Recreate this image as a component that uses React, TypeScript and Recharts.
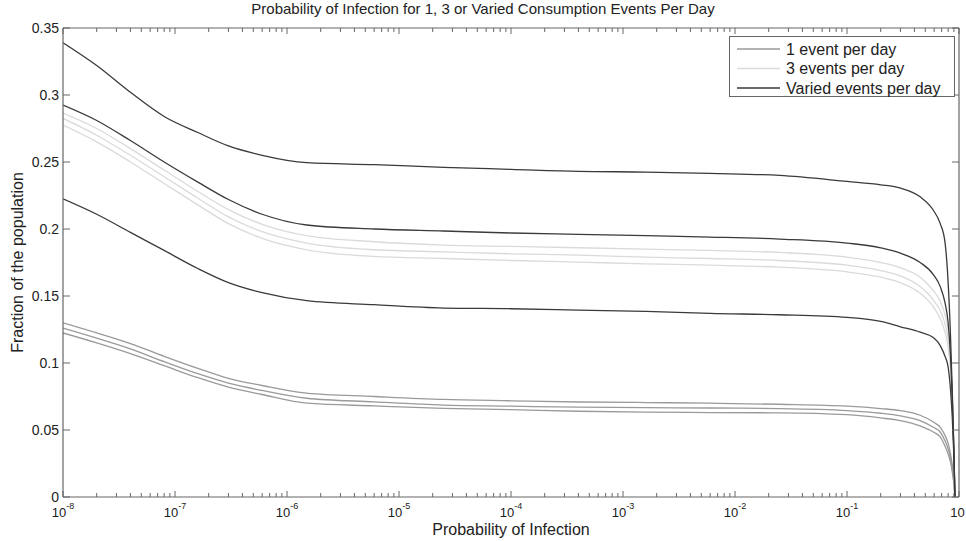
import React from 'react';
import { LineChart, Line, XAxis, YAxis, Legend } from 'recharts';

const TITLE = 'Probability of Infection for 1, 3 or Varied Consumption Events Per Day';
const X_TITLE = 'Probability of Infection';
const Y_TITLE = 'Fraction of the population';

const PROB = [1e-8, 2e-8, 4e-8, 8e-8, 1.6e-7, 3e-7, 6e-7, 1.5e-6, 6e-6, 2.5e-5, 1e-4, 4e-4, 1.6e-3, 6e-3, 2.5e-2,
  0.1, 0.2, 0.3, 0.45, 0.59, 0.68, 0.75, 0.8, 0.84, 0.87, 0.9, 0.92];

const VARIED_HIGH = [0.339, 0.322, 0.302, 0.284, 0.272, 0.262, 0.255, 0.2495, 0.248, 0.246, 0.2445, 0.243, 0.2425, 0.2415, 0.240,
  0.2355, 0.233, 0.2305, 0.224, 0.214, 0.204, 0.19, 0.16, 0.12, 0.08, 0.035, 0];
const VARIED_MID = [0.2925, 0.281, 0.266, 0.25, 0.235, 0.222, 0.211, 0.203, 0.2, 0.1985, 0.197, 0.196, 0.195, 0.194, 0.1925,
  0.1895, 0.186, 0.182, 0.175, 0.166, 0.157, 0.145, 0.13, 0.105, 0.075, 0.035, 0];
const VARIED_LOW = [0.2225, 0.211, 0.1975, 0.184, 0.1705, 0.16, 0.1525, 0.1465, 0.1435, 0.141, 0.1405, 0.1395, 0.1385, 0.137, 0.136,
  0.134, 0.131, 0.127, 0.123, 0.119, 0.113, 0.105, 0.097, 0.08, 0.06, 0.03, 0];
const THREE_A = [0.2865, 0.275, 0.26, 0.244, 0.228, 0.2145, 0.2035, 0.195, 0.1905, 0.188, 0.187, 0.186, 0.185, 0.184, 0.1825,
  0.179, 0.175, 0.171, 0.164, 0.154, 0.146, 0.136, 0.125, 0.105, 0.08, 0.035, 0];
const THREE_B = [0.2825, 0.27, 0.255, 0.239, 0.223, 0.209, 0.198, 0.1895, 0.1845, 0.183, 0.1815, 0.1805, 0.179, 0.178, 0.1765,
  0.173, 0.169, 0.165, 0.157, 0.147, 0.139, 0.129, 0.118, 0.1, 0.075, 0.033, 0];
const THREE_C = [0.2775, 0.265, 0.25, 0.234, 0.218, 0.204, 0.193, 0.1845, 0.1795, 0.178, 0.1765, 0.1753, 0.174, 0.173, 0.1715,
  0.168, 0.164, 0.16, 0.152, 0.142, 0.133, 0.123, 0.112, 0.095, 0.07, 0.03, 0];
const ONE_A = [0.130, 0.1225, 0.1145, 0.105, 0.096, 0.0885, 0.0832, 0.0775, 0.075, 0.0728, 0.0718, 0.0709, 0.0705, 0.070, 0.0692,
  0.0678, 0.066, 0.0645, 0.061, 0.056, 0.052, 0.046, 0.04, 0.032, 0.024, 0.012, 0];
const ONE_B = [0.126, 0.1185, 0.1105, 0.101, 0.092, 0.085, 0.0795, 0.0737, 0.071, 0.0686, 0.0678, 0.067, 0.0667, 0.0664, 0.066,
  0.0645, 0.0625, 0.0605, 0.057, 0.052, 0.0485, 0.042, 0.036, 0.029, 0.021, 0.011, 0];
const ONE_C = [0.1224, 0.115, 0.107, 0.098, 0.089, 0.082, 0.0765, 0.070, 0.068, 0.0662, 0.0652, 0.064, 0.0634, 0.063, 0.0628,
  0.0614, 0.059, 0.057, 0.053, 0.0485, 0.0448, 0.038, 0.032, 0.026, 0.019, 0.01, 0];

const MAJOR_TICKS = [1e-8, 1e-7, 1e-6, 1e-5, 1e-4, 1e-3, 1e-2, 1e-1, 1];
const MAJOR_EXPONENTS = ['-8', '-7', '-6', '-5', '-4', '-3', '-2', '-1', ''];
const MINOR_STEPS = [2, 3, 4, 5, 6, 7, 8, 9];
const Y_TICKS = [0, 0.05, 0.1, 0.15, 0.2, 0.25, 0.3, 0.35];
const Y_TICK_LABELS = ['0', '0.05', '0.1', '0.15', '0.2', '0.25', '0.3', '0.35'];

const LEGEND_ITEMS = [
  { label: '1 event per day', color: '#9a9a9a' },
  { label: '3 events per day', color: '#dadada' },
  { label: 'Varied events per day', color: '#3a3a3a' },
];

const DARK = '#3a3a3a';
const LIGHT = '#dadada';
const GRAY = '#9a9a9a';
const AXIS = '#666666';
const TEXT = '#222222';
const FONT = "'Liberation Sans', Arial, Helvetica, sans-serif";

const X_TICKS: number[] = MAJOR_TICKS.flatMap((m, i) =>
  i < MAJOR_TICKS.length - 1 ? [m, ...MINOR_STEPS.map((k) => k * m)] : [m]
);

const SERIES = [
  { key: 'oneA', values: ONE_A, color: GRAY },
  { key: 'oneB', values: ONE_B, color: GRAY },
  { key: 'oneC', values: ONE_C, color: GRAY },
  { key: 'threeA', values: THREE_A, color: LIGHT },
  { key: 'threeB', values: THREE_B, color: LIGHT },
  { key: 'threeC', values: THREE_C, color: LIGHT },
  { key: 'variedHigh', values: VARIED_HIGH, color: DARK },
  { key: 'variedMid', values: VARIED_MID, color: DARK },
  { key: 'variedLow', values: VARIED_LOW, color: DARK },
];

const data = PROB.map((p, i) => {
  const row: Record<string, number> = { p };
  SERIES.forEach((s) => {
    row[s.key] = s.values[i];
  });
  return row;
});

const majorIndex = (v: number) => {
  const e = Math.log10(v);
  if (Math.abs(e - Math.round(e)) > 1e-6) return -1;
  return MAJOR_TICKS.findIndex((m) => Math.abs(Math.log10(m) - e) < 1e-6);
};

const BottomTick = (props: any) => {
  const { x, y, payload } = props;
  const idx = majorIndex(payload.value);
  const major = idx >= 0;
  const exp = major ? MAJOR_EXPONENTS[idx] : '';
  return (
    <g>
      <line x1={x} x2={x} y1={y} y2={y - (major ? 6 : 4)} stroke={AXIS} strokeWidth={1} />
      {major && exp !== '' && (
        <text x={x} y={y + 20} textAnchor="middle" fontSize={13} fill={TEXT} fontFamily={FONT}>
          10
          <tspan dy={-8} fontSize={9}>{exp}</tspan>
        </text>
      )}
      {major && exp === '' && (
        <text x={x - 1.5} y={y + 20} textAnchor="middle" fontSize={13} fill={TEXT} fontFamily={FONT}>
          10
        </text>
      )}
    </g>
  );
};

const TopTick = (props: any) => {
  const { x, y, payload } = props;
  const major = majorIndex(payload.value) >= 0;
  return <line x1={x} x2={x} y1={y} y2={y + (major ? 6 : 4)} stroke={AXIS} strokeWidth={1} />;
};

const LeftTick = (props: any) => {
  const { x, y, payload } = props;
  const idx = Y_TICKS.findIndex((t) => Math.abs(t - payload.value) < 1e-9);
  return (
    <g>
      <line x1={x} x2={x + 7} y1={y} y2={y} stroke={AXIS} strokeWidth={1} />
      <text x={x - 4} y={y + 5} textAnchor="end" fontSize={14} fill={TEXT} fontFamily={FONT}>
        {idx >= 0 ? Y_TICK_LABELS[idx] : ''}
      </text>
    </g>
  );
};

const RightTick = (props: any) => {
  const { x, y } = props;
  return <line x1={x} x2={x - 7} y1={y} y2={y} stroke={AXIS} strokeWidth={1} />;
};

const XTitle = (props: any) => {
  const vb = props.viewBox || {};
  return (
    <text x={vb.x + vb.width / 2} y={vb.y + 38} textAnchor="middle" fontSize={16} fill={TEXT} fontFamily={FONT}>
      {X_TITLE}
    </text>
  );
};

const ChartTitle = (props: any) => {
  const vb = props.viewBox || {};
  return (
    <text x={vb.x + vb.width / 2 - 28} y={vb.y + vb.height - 14} textAnchor="middle" fontSize={15} fill={TEXT} fontFamily={FONT}>
      {TITLE}
    </text>
  );
};

const YTitle = (props: any) => {
  const vb = props.viewBox || {};
  const cx = vb.x + vb.width - 40;
  const cy = vb.y + vb.height / 2;
  return (
    <text x={cx} y={cy} transform={`rotate(-90, ${cx}, ${cy})`} textAnchor="middle" fontSize={16} fill={TEXT} fontFamily={FONT}>
      {Y_TITLE}
    </text>
  );
};

const LegendBox = () => (
  <svg width={226} height={61} style={{ display: 'block' }}>
    <rect x={0.5} y={0.5} width={225} height={60} fill="#ffffff" stroke={AXIS} strokeWidth={1} />
    {LEGEND_ITEMS.map((item, i) => (
      <g key={item.label}>
        <line x1={8} x2={51} y1={13 + i * 19.5} y2={13 + i * 19.5} stroke={item.color} strokeWidth={1.3} />
        <text x={57} y={18.5 + i * 19.5} fontSize={16} fill={TEXT} fontFamily={FONT}>
          {item.label}
        </text>
      </g>
    ))}
  </svg>
);

export default function App() {
  return (
    <div style={{ position: 'absolute', left: 0, top: 0, width: 966, height: 541, background: '#ffffff' }}>
      <LineChart width={966} height={541} data={data} margin={{ top: 0, right: 0, bottom: 0, left: 0 }}>
        <XAxis
          xAxisId="b"
          dataKey="p"
          type="number"
          scale="log"
          domain={[1e-8, 1]}
          allowDataOverflow
          ticks={X_TICKS}
          interval={0}
          height={44}
          tickSize={0}
          tickMargin={0}
          tickLine={false}
          axisLine={{ stroke: AXIS, strokeWidth: 1.2 }}
          tick={<BottomTick />}
          label={<XTitle />}
        />
        <XAxis
          xAxisId="t"
          orientation="top"
          dataKey="p"
          type="number"
          scale="log"
          domain={[1e-8, 1]}
          allowDataOverflow
          ticks={X_TICKS}
          interval={0}
          height={28}
          tickSize={0}
          tickMargin={0}
          tickLine={false}
          axisLine={{ stroke: AXIS, strokeWidth: 1.2 }}
          tick={<TopTick />}
          label={<ChartTitle />}
        />
        <YAxis
          yAxisId="l"
          type="number"
          domain={[0, 0.35]}
          allowDataOverflow
          ticks={Y_TICKS}
          interval={0}
          width={63}
          tickSize={0}
          tickMargin={0}
          tickLine={false}
          axisLine={{ stroke: AXIS, strokeWidth: 1.2 }}
          tick={<LeftTick />}
          label={<YTitle />}
        />
        <YAxis
          yAxisId="r"
          orientation="right"
          type="number"
          domain={[0, 0.35]}
          allowDataOverflow
          ticks={Y_TICKS}
          interval={0}
          width={7}
          tickSize={0}
          tickMargin={0}
          tickLine={false}
          axisLine={{ stroke: AXIS, strokeWidth: 1.2 }}
          tick={<RightTick />}
        />
        <Legend
          layout="horizontal"
          verticalAlign="middle"
          align="center"
          wrapperStyle={{ position: 'absolute', left: 729, top: 36, width: 226, height: 61 }}
          content={<LegendBox />}
        />
        {SERIES.map((s) => (
          <Line
            key={s.key}
            xAxisId="b"
            yAxisId="l"
            dataKey={s.key}
            type="monotone"
            stroke={s.color}
            strokeWidth={1.3}
            dot={false}
            activeDot={false}
            isAnimationActive={false}
            legendType="none"
          />
        ))}
        <Line
          xAxisId="t"
          yAxisId="r"
          dataKey="variedHigh"
          stroke="none"
          strokeOpacity={0}
          dot={false}
          activeDot={false}
          isAnimationActive={false}
          legendType="none"
        />
      </LineChart>
    </div>
  );
}
